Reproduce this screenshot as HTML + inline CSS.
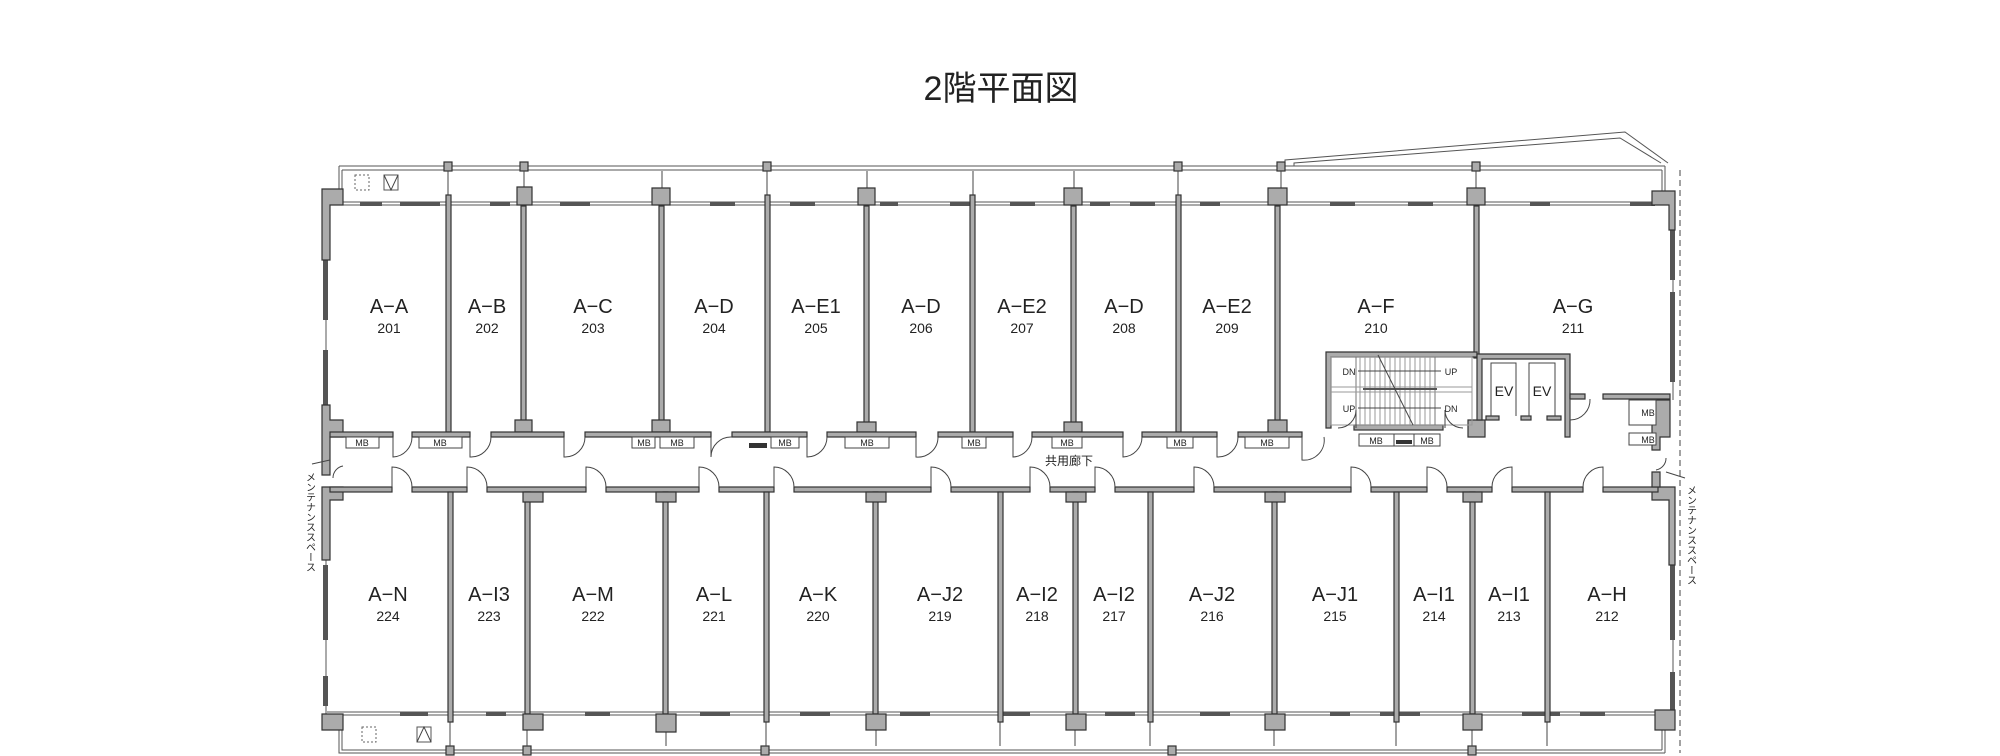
<!DOCTYPE html>
<html><head><meta charset="utf-8"><style>
html,body{margin:0;padding:0;background:#fff;}
svg{display:block;}
text{font-family:"Liberation Sans","Noto Sans CJK JP",sans-serif;fill:#222;}
.w{fill:#ababab;stroke:#333;stroke-width:1.2;}
.l{fill:none;stroke:#444;stroke-width:1;}
.t{fill:none;stroke:#555;stroke-width:1;}
.win{fill:#555;}
.mb{fill:#fff;stroke:#444;stroke-width:1;}
.lab{font-size:20px;text-anchor:middle;}
.num{font-size:14px;text-anchor:middle;}
.sm{font-size:10px;text-anchor:middle;}
</style></head><body>
<svg width="2000" height="756" viewBox="0 0 2000 756" xmlns="http://www.w3.org/2000/svg">
<text x="1001" y="100" font-size="34" text-anchor="middle" fill="#333">2階平面図</text>

<!-- outer balcony frame top -->
<path class="t" d="M339 166 H1665 M342 170 H1662 M339 166 V205 M342 170 V205"/>
<path class="t" d="M339 714 V753 H1665 M342 714 V750 H1662 M1662 170 V205 M1665 166 V205 M1662 714 V750 M1665 714 V753"/>
<path class="t" d="M1285 166 L1285 160 L1625 132 L1668 163 M1294 166 L1294 163 L1620 138 L1661 163"/>
<line x1="1680" y1="170" x2="1680" y2="753" stroke="#444" stroke-dasharray="6,4"/>
<!-- balcony columns -->
<g class="w">
<rect x="444" y="162" width="8" height="9"/><rect x="520" y="162" width="8" height="9"/><rect x="763" y="162" width="8" height="9"/><rect x="1174" y="162" width="8" height="9"/><rect x="1277" y="162" width="8" height="9"/><rect x="1472" y="162" width="8" height="9"/>
<rect x="446" y="746" width="8" height="9"/><rect x="523" y="746" width="8" height="9"/><rect x="761" y="746" width="8" height="9"/><rect x="1168" y="746" width="8" height="9"/><rect x="1468" y="746" width="8" height="9"/>
</g>
<path class="l" d="M448 171 V204 M524 171 V195 M662 171 V195 M767 171 V204 M867 171 V195 M973 171 V204 M1074 171 V195 M1178 171 V204 M1281 171 V195 M1476 171 V195"/>
<path class="l" d="M450 714 V746 M527 714 V746 M666 714 V746 M766 714 V746 M876 714 V746 M1000 714 V746 M1075 714 V746 M1150 714 V746 M1274 714 V746 M1396 714 V746 M1472 714 V746 M1547 714 V746"/>
<!-- icons -->
<rect x="355" y="175" width="14" height="15" fill="none" stroke="#666" stroke-dasharray="2,2"/>
<rect x="384" y="175" width="14" height="15" fill="none" stroke="#555"/><path class="l" d="M384 175 L391 190 L398 175"/>
<rect x="362" y="727" width="14" height="15" fill="none" stroke="#666" stroke-dasharray="2,2"/>
<rect x="417" y="727" width="14" height="15" fill="none" stroke="#555"/><path class="l" d="M417 742 L424 727 L431 742"/>

<!-- facade lines -->
<path class="t" d="M327 202 H1672 M327 205 H1672 M327 712 H1672 M327 715 H1672"/>
<g class="win">
<rect x="360" y="202" width="22" height="4"/><rect x="400" y="202" width="40" height="4"/><rect x="490" y="202" width="20" height="4"/><rect x="560" y="202" width="30" height="4"/><rect x="710" y="202" width="25" height="4"/><rect x="790" y="202" width="25" height="4"/><rect x="880" y="202" width="18" height="4"/><rect x="950" y="202" width="22" height="4"/><rect x="1010" y="202" width="25" height="4"/><rect x="1090" y="202" width="20" height="4"/><rect x="1130" y="202" width="25" height="4"/><rect x="1200" y="202" width="20" height="4"/><rect x="1330" y="202" width="25" height="4"/><rect x="1408" y="202" width="25" height="4"/><rect x="1530" y="202" width="20" height="4"/><rect x="1630" y="202" width="25" height="4"/>
<rect x="400" y="712" width="28" height="4"/><rect x="486" y="712" width="20" height="4"/><rect x="585" y="712" width="25" height="4"/><rect x="700" y="712" width="30" height="4"/><rect x="800" y="712" width="30" height="4"/><rect x="900" y="712" width="30" height="4"/><rect x="1000" y="712" width="30" height="4"/><rect x="1105" y="712" width="30" height="4"/><rect x="1200" y="712" width="30" height="4"/><rect x="1330" y="712" width="20" height="4"/><rect x="1380" y="712" width="40" height="4"/><rect x="1522" y="712" width="38" height="4"/><rect x="1580" y="712" width="25" height="4"/>
<rect x="323" y="260" width="5" height="60"/><rect x="323" y="350" width="5" height="70"/><rect x="323" y="565" width="5" height="75"/><rect x="323" y="676" width="5" height="30"/>
<rect x="1670" y="220" width="5" height="60"/><rect x="1670" y="292" width="5" height="90"/><rect x="1670" y="565" width="5" height="75"/><rect x="1670" y="672" width="5" height="40"/>
</g>
<path class="t" d="M326 205 V432 M1673 205 V400 M326 492 V714 M1673 492 V714"/>

<!-- piers / walls -->
<g class="w">
<path d="M322 189 H343 V205 H330 V260 H322 Z"/>
<path d="M1652 191 H1675 V230 H1669 V205 H1652 Z"/>
<path d="M322 405 H330 V420 H343 V437 H330 V475 H322 Z"/>
<path d="M322 487 H343 V500 H330 V560 H322 Z"/>
<path d="M322 714 H343 V730 H322 Z"/>
<path d="M1655 710 H1675 V730 H1655 Z"/>
<path d="M1652 487 H1675 V565 H1669 V500 H1652 Z"/>
<!-- upper partitions -->
<rect x="446" y="195" width="5" height="237"/>
<rect x="521" y="206" width="5" height="226"/><path d="M515 420 H532 V432 H515 Z"/><path d="M517 187 H532 V205 H517 Z"/>
<rect x="659" y="206" width="5" height="226"/><path d="M652 420 H670 V432 H652 Z"/><path d="M652 188 H670 V205 H652 Z"/>
<rect x="765" y="195" width="5" height="237"/>
<rect x="864" y="206" width="5" height="226"/><path d="M857 422 H876 V432 H857 Z"/><path d="M858 188 H875 V205 H858 Z"/>
<rect x="970" y="195" width="5" height="237"/>
<rect x="1071" y="206" width="5" height="226"/><path d="M1064 422 H1082 V432 H1064 Z"/><path d="M1064 188 H1082 V205 H1064 Z"/>
<rect x="1176" y="195" width="5" height="237"/>
<rect x="1275" y="206" width="5" height="226"/><path d="M1268 420 H1287 V433 H1268 Z"/><path d="M1268 188 H1287 V205 H1268 Z"/>
<rect x="1474" y="206" width="5" height="152"/><path d="M1467 188 H1485 V205 H1467 Z"/>
<!-- corridor top wall -->
<rect x="330" y="432" width="63" height="5"/><rect x="412" y="432" width="58" height="5"/><rect x="491" y="432" width="73" height="5"/><rect x="585" y="432" width="126" height="5"/><rect x="732" y="432" width="75" height="5"/><rect x="827" y="432" width="89" height="5"/><rect x="938" y="432" width="75" height="5"/><rect x="1032" y="432" width="91" height="5"/><rect x="1142" y="432" width="75" height="5"/><rect x="1238" y="432" width="64" height="5"/>
<!-- corridor bottom wall -->
<rect x="330" y="487" width="62" height="5"/><rect x="412" y="487" width="55" height="5"/><rect x="487" y="487" width="99" height="5"/><rect x="606" y="487" width="93" height="5"/><rect x="719" y="487" width="55" height="5"/><rect x="794" y="487" width="137" height="5"/><rect x="951" y="487" width="79" height="5"/><rect x="1050" y="487" width="45" height="5"/><rect x="1115" y="487" width="79" height="5"/><rect x="1214" y="487" width="137" height="5"/><rect x="1371" y="487" width="56" height="5"/><rect x="1447" y="487" width="45" height="5"/><rect x="1512" y="487" width="71" height="5"/><rect x="1603" y="487" width="55" height="5"/>
<!-- lower partitions -->
<rect x="448" y="492" width="5" height="230"/>
<rect x="525" y="492" width="5" height="222"/><path d="M523 492 H543 V502 H523 Z"/><path d="M523 714 H543 V730 H523 Z"/>
<rect x="663" y="492" width="5" height="222"/><path d="M656 492 H676 V502 H656 Z"/><path d="M656 714 H676 V732 H656 Z"/>
<rect x="764" y="492" width="5" height="230"/>
<rect x="873" y="492" width="5" height="222"/><path d="M866 492 H886 V502 H866 Z"/><path d="M866 714 H886 V730 H866 Z"/>
<rect x="998" y="492" width="5" height="230"/>
<rect x="1073" y="492" width="5" height="222"/><path d="M1066 492 H1086 V502 H1066 Z"/><path d="M1066 714 H1086 V730 H1066 Z"/>
<rect x="1148" y="492" width="5" height="230"/>
<rect x="1272" y="492" width="5" height="222"/><path d="M1265 492 H1285 V502 H1265 Z"/><path d="M1265 714 H1285 V730 H1265 Z"/>
<rect x="1394" y="492" width="5" height="230"/>
<rect x="1470" y="492" width="5" height="222"/><path d="M1463 492 H1482 V502 H1463 Z"/><path d="M1463 714 H1482 V730 H1463 Z"/>
<rect x="1545" y="492" width="5" height="230"/>
<!-- stair box -->
<path d="M1326 352 H1477 V357 H1331 V428 H1326 Z"/>
<rect x="1354" y="425" width="89" height="5"/>
<path d="M1468 420 H1485 V437 H1468 Z"/>
<!-- EV box -->
<path d="M1477 354 H1570 V437 H1565 V359 H1482 V420 H1477 Z"/>
<rect x="1486" y="416" width="13" height="4"/><rect x="1521" y="416" width="10" height="4"/><rect x="1547" y="416" width="14" height="4"/>
<path d="M1570 394 H1585 V399 H1570 Z"/><path d="M1603 394 H1670 V399 H1603 Z"/>
<path d="M1652 400 H1670 V437 H1660 V450 H1652 Z"/>
<path d="M1652 472 H1660 V487 H1652 Z"/>
</g>
<!-- stairs -->
<g class="l">
<rect x="1331" y="357" width="141" height="68" stroke="#999"/>
<path d="M1356 357 V425 M1435 357 V425" stroke="#777"/>
<path d="M1360 357V425M1365 357V425M1370 357V425M1375 357V425M1380 357V425M1385 357V425M1390 357V425M1395 357V425M1400 357V425M1405 357V425M1410 357V425M1415 357V425M1420 357V425M1425 357V425M1430 357V425" stroke="#999"/>
<path d="M1331 387 H1472 M1331 392 H1472" stroke="#999"/>
<path d="M1363 389 H1437" stroke="#555" stroke-width="2"/>
<path d="M1358 371 H1441 M1358 408 H1441"/>
<path d="M1378 355 L1413 425"/>
</g>
<text x="1349" y="375" font-size="9" text-anchor="middle">DN</text>
<text x="1451" y="375" font-size="9" text-anchor="middle">UP</text>
<text x="1349" y="412" font-size="9" text-anchor="middle">UP</text>
<text x="1451" y="412" font-size="9" text-anchor="middle">DN</text>
<!-- EV -->
<path class="l" d="M1491 416 V363 H1516 V416 M1529 416 V363 H1555 V416"/>
<text x="1504" y="396" font-size="14" text-anchor="middle">EV</text>
<text x="1542" y="396" font-size="14" text-anchor="middle">EV</text>

<!-- MB boxes -->
<g class="mb">
<rect x="346" y="437" width="33" height="11"/><rect x="419" y="437" width="43" height="11"/><rect x="632" y="437" width="23" height="11"/><rect x="660" y="437" width="34" height="11"/><rect x="771" y="437" width="28" height="11"/><rect x="845" y="437" width="44" height="11"/><rect x="962" y="437" width="24" height="11"/><rect x="1052" y="437" width="30" height="11"/><rect x="1167" y="437" width="26" height="11"/><rect x="1245" y="437" width="44" height="11"/>
<rect x="1359" y="434" width="35" height="12"/><rect x="1394" y="434" width="20" height="12"/><rect x="1414" y="434" width="26" height="12"/>
<rect x="1629" y="400" width="27" height="25"/><rect x="1629" y="433" width="27" height="12"/>
</g>
<rect x="749" y="443" width="18" height="5" fill="#333"/><rect x="1396" y="440" width="16" height="4" fill="#333"/>
<g font-size="9" text-anchor="middle">
<text x="362" y="446">MB</text><text x="440" y="446">MB</text><text x="644" y="446">MB</text><text x="677" y="446">MB</text><text x="785" y="446">MB</text><text x="867" y="446">MB</text><text x="974" y="446">MB</text><text x="1067" y="446">MB</text><text x="1180" y="446">MB</text><text x="1267" y="446">MB</text>
<text x="1376" y="444">MB</text><text x="1427" y="444">MB</text><text x="1648" y="416">MB</text><text x="1648" y="443">MB</text>
</g>

<!-- doors upper (swing down) -->
<g class="l">
<path d="M393 437 V457 A20 20 0 0 0 412 437"/><path d="M470 437 V457 A20 20 0 0 0 491 437"/><path d="M564 437 V457 A20 20 0 0 0 585 437"/><path d="M711 437 V457 A20 20 0 0 1 732 437" transform="translate(0,0)"/><path d="M807 437 V457 A20 20 0 0 0 827 437"/><path d="M916 437 V457 A20 20 0 0 0 938 437"/><path d="M1013 437 V457 A20 20 0 0 0 1032 437"/><path d="M1123 437 V457 A20 20 0 0 0 1142 437"/><path d="M1217 437 V457 A20 20 0 0 0 1238 437"/><path d="M1302 437 V460 A20 20 0 0 0 1324 437"/><path d="M1570 399 V420 A20 20 0 0 0 1590 399"/>
<path d="M1356 428 V410 A18 18 0 0 1 1338 428 M1445 428 V410 A18 18 0 0 0 1463 428"/>
<!-- lower doors (swing up) -->
<path d="M392 487 V467 A20 20 0 0 1 412 487"/><path d="M467 487 V467 A20 20 0 0 1 487 487"/><path d="M586 487 V467 A20 20 0 0 1 606 487"/><path d="M699 487 V467 A20 20 0 0 1 719 487"/><path d="M774 487 V467 A20 20 0 0 1 794 487"/><path d="M931 487 V467 A20 20 0 0 1 951 487"/><path d="M1030 487 V467 A20 20 0 0 1 1050 487"/><path d="M1095 487 V467 A20 20 0 0 1 1115 487"/><path d="M1194 487 V467 A20 20 0 0 1 1214 487"/><path d="M1351 487 V467 A20 20 0 0 1 1371 487"/><path d="M1427 487 V467 A20 20 0 0 1 1447 487"/><path d="M1512 487 V467 A20 20 0 0 0 1492 487"/><path d="M1603 487 V467 A20 20 0 0 0 1583 487"/>
<path d="M333 478 A12 12 0 0 1 343 466 M1656 470 A12 12 0 0 0 1666 458"/>
<path d="M330 460 L312 464 M1666 472 L1685 478"/>
</g>
<text x="1069" y="465" font-size="12" text-anchor="middle">共用廊下</text>
<text font-size="10" writing-mode="tb" style="writing-mode:vertical-rl" x="309" y="472">メンテナンススペース</text>
<text font-size="10" style="writing-mode:vertical-rl" x="1690" y="485">メンテナンススペース</text>

<!-- labels upper -->
<g class="lab">
<text x="389" y="313">A−A</text><text x="487" y="313">A−B</text><text x="593" y="313">A−C</text><text x="714" y="313">A−D</text><text x="816" y="313">A−E1</text><text x="921" y="313">A−D</text><text x="1022" y="313">A−E2</text><text x="1124" y="313">A−D</text><text x="1227" y="313">A−E2</text><text x="1376" y="313">A−F</text><text x="1573" y="313">A−G</text>
<text x="388" y="601">A−N</text><text x="489" y="601">A−I3</text><text x="593" y="601">A−M</text><text x="714" y="601">A−L</text><text x="818" y="601">A−K</text><text x="940" y="601">A−J2</text><text x="1037" y="601">A−I2</text><text x="1114" y="601">A−I2</text><text x="1212" y="601">A−J2</text><text x="1335" y="601">A−J1</text><text x="1434" y="601">A−I1</text><text x="1509" y="601">A−I1</text><text x="1607" y="601">A−H</text>
</g>
<g class="num">
<text x="389" y="333">201</text><text x="487" y="333">202</text><text x="593" y="333">203</text><text x="714" y="333">204</text><text x="816" y="333">205</text><text x="921" y="333">206</text><text x="1022" y="333">207</text><text x="1124" y="333">208</text><text x="1227" y="333">209</text><text x="1376" y="333">210</text><text x="1573" y="333">211</text>
<text x="388" y="621">224</text><text x="489" y="621">223</text><text x="593" y="621">222</text><text x="714" y="621">221</text><text x="818" y="621">220</text><text x="940" y="621">219</text><text x="1037" y="621">218</text><text x="1114" y="621">217</text><text x="1212" y="621">216</text><text x="1335" y="621">215</text><text x="1434" y="621">214</text><text x="1509" y="621">213</text><text x="1607" y="621">212</text>
</g>
</svg>
</body></html>
